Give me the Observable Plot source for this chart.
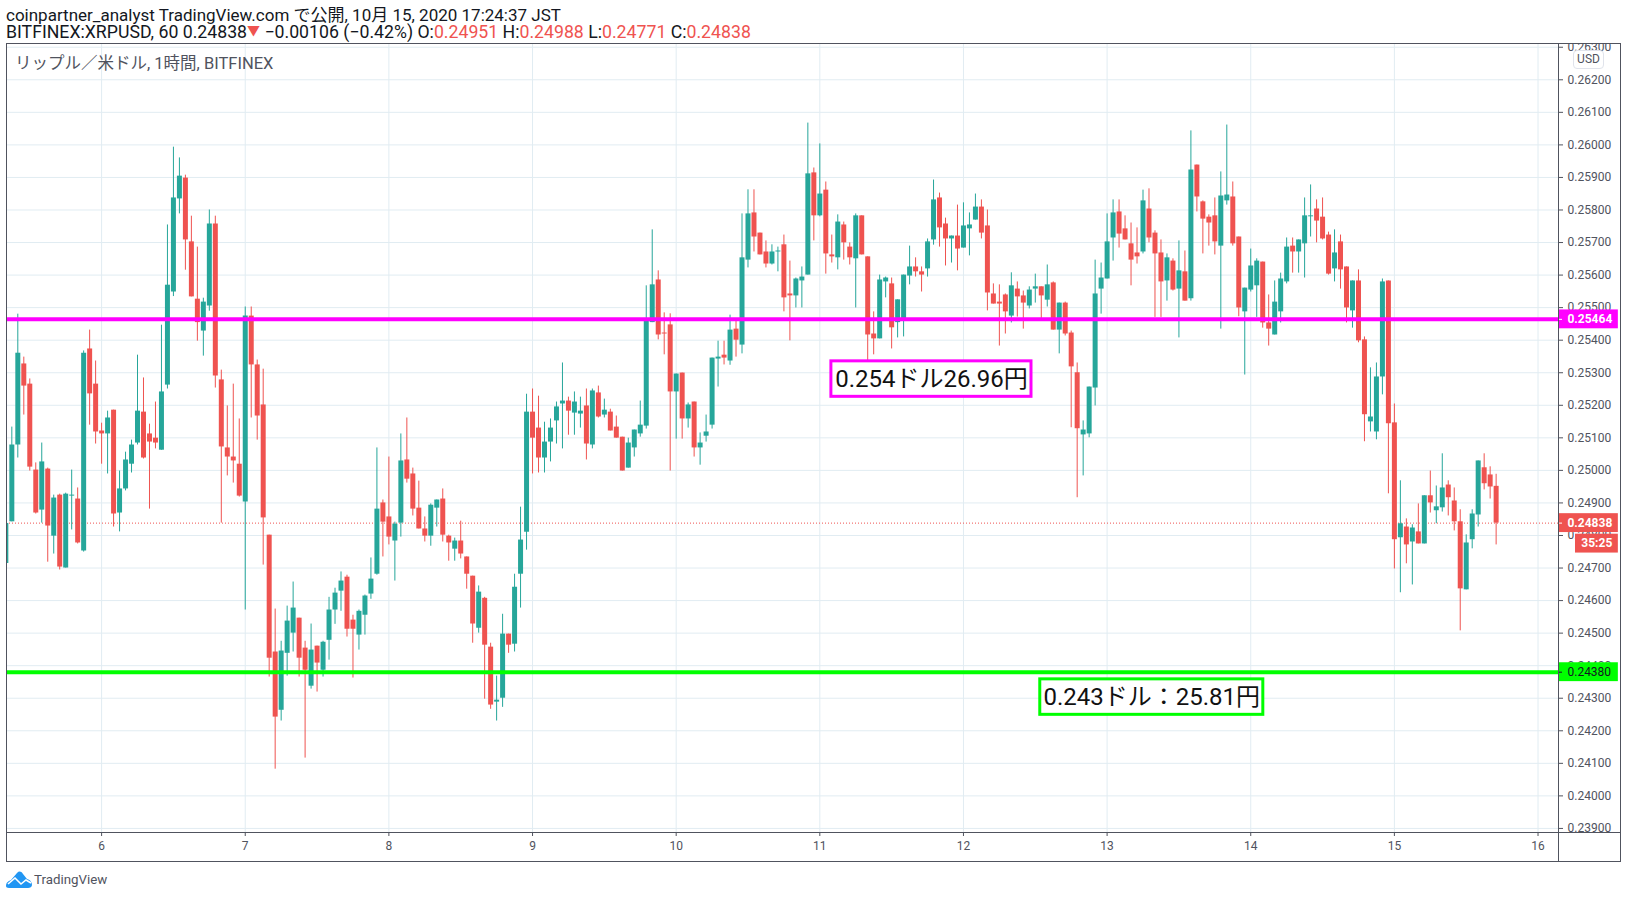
<!DOCTYPE html>
<html lang="ja">
<head>
<meta charset="utf-8">
<script src="https://cdn.jsdelivr.net/npm/d3@7"></script>
<script src="https://cdn.jsdelivr.net/npm/@observablehq/plot@0.6"></script>
<style>
html,body{margin:0;padding:0;background:#fff;}
#page{position:relative;width:1627px;height:898px;overflow:hidden;font-family:Roboto,"Noto Sans CJK JP",sans-serif;color:#131722;}
#page>*{position:absolute;}
.hd{left:6px;line-height:17px;white-space:pre;}
.r{color:#ef5350;}
.a{font-size:13px;vertical-align:3px;line-height:10px;}
#chart{left:0;top:43px;}
.ln{background:#50535e;}
#usd{left:1573px;top:50px;width:29px;height:17px;border:1px solid #e0e3eb;border-radius:4px;background:#fff;font-size:12px;line-height:17px;text-align:center;color:#50535e;}
</style>
</head>
<body>
<div id="page">
  <div class="hd" style="top:7px;font-size:17px">coinpartner_analyst TradingView.com で公開, 10月 15, 2020 17:24:37 JST</div>
  <div class="hd" style="top:24px;font-size:17.7px">BITFINEX:XRPUSD, 60 0.24838<span class="r a">▼</span> −0.00106 (−0.42%) O:<span class="r">0.24951</span> H:<span class="r">0.24988</span> L:<span class="r">0.24771</span> C:<span class="r">0.24838</span></div>
  <div id="chart"></div>
  <div style="left:15px;top:54px;font-size:16.5px;line-height:20px;color:#50535e;white-space:pre">リップル／米ドル, 1時間, BITFINEX</div>
  <div id="usd">USD</div>
  <div class="ln" style="left:6px;top:43px;width:1615px;height:1px"></div>
  <div class="ln" style="left:6px;top:832px;width:1615px;height:1px"></div>
  <div class="ln" style="left:6px;top:861px;width:1615px;height:1px"></div>
  <div class="ln" style="left:6px;top:43px;width:1px;height:819px"></div>
  <div class="ln" style="left:1558px;top:43px;width:1px;height:819px"></div>
  <div class="ln" style="left:1620px;top:43px;width:1px;height:819px"></div>
  <svg style="left:6px;top:871px" width="26" height="17" viewBox="0 0 26 17"><path d="M0 15 C0 11 3 10 5 9 L11 2 C13 0 15 0 17 3 L21 8 C25 9 26 12 26 14 C26 16 24 17 22 17 L3 17 C1 17 0 16 0 15Z" fill="#2196f3"/><path d="M2 13 L9 7 L15 13 L20 9 L25 12" fill="none" stroke="#fff" stroke-width="1.6"/></svg>
  <div style="left:34px;top:871px;font-size:13.3px;line-height:17px;color:#50535e">TradingView</div>
</div>
<script>
// Prices are in units of 0.00001 USD, one candle per hour from 5 Oct 08:00.
const opens = [
24714,24842,25078,25327,25265,25001,24878,25004,24798,24924,24700,24921,24912,24752,25373,25265,
25121,25112,25185,24869,24943,25019,25084,25179,25112,25099,25062,25262,25548,25834,25898,25702,25526,25428,25505,25757,25278,25069,25041,25019,
24903,25474,25324,25201,24801,24442,24263,24438,24500,24546,24454,24337,24460,24386,24478,24571,24629,24672,24540,24494,24555,24620,24681,24900,
24857,24783,24838,25032,24989,24884,24820,24798,24884,24912,24798,24758,24783,24734,24675,24515,24607,24457,24288,24300,24497,24466,24681,24810,
25179,25130,25038,25087,25152,25204,25213,25176,25173,25198,25078,25238,25170,25179,25133,25102,25007,25069,25112,25136,25454,25585,25422,25447,
25241,25299,25158,25210,25069,25105,25139,25342,25354,25336,25434,25385,25646,25791,25729,25671,25634,25671,25693,25542,25536,25582,25600,25914,
25782,25861,25662,25653,25754,25686,25650,25782,25656,25419,25404,25579,25573,25454,25462,25597,25625,25610,25619,25708,25837,25757,25711,25720,
25683,25742,25769,25809,25751,25542,25517,25539,25474,25557,25536,25505,25557,25564,25523,25576,25431,25514,25422,25300,25109,25112,25253,25557,
25588,25714,25794,25742,25696,25668,25671,25803,25729,25668,25582,25643,25557,25610,25527,25938,25825,25778,25782,25689,25828,25840,25717,25487,
25554,25567,25640,25453,25416,25487,25579,25689,25671,25696,25779,25803,25778,25723,25619,25702,25625,25490,25582,25401,25149,25118,25287,25582,
25146,24793,24826,24780,24811,24774,24922,24876,24885,24955,24906,24842,24633,24787,24863,25008,24986,24951];
const highs = [
24837,25133,25480,25348,25281,25023,25084,25007,24924,24927,24930,25001,24946,25367,25431,25336,
25145,25182,25185,24998,25056,25093,25354,25284,25142,25210,25446,25754,25993,25960,25907,25781,25686,25529,25800,25781,25308,25198,25265,25158,
25502,25502,25339,25311,24801,24574,24475,24583,24657,24546,24475,24528,24460,24475,24610,24638,24688,24678,24555,24571,24617,24731,25069,24909,
25041,24841,25112,25161,25007,24967,24857,24897,24909,24943,24801,24792,24844,24734,24675,24645,24610,24469,24368,24558,24497,24681,24887,25234,
25250,25228,25148,25158,25210,25330,25225,25241,25225,25250,25250,25259,25219,25188,25167,25102,25099,25124,25213,25567,25739,25613,25484,25481,
25296,25299,25207,25210,25115,25170,25345,25397,25397,25477,25459,25788,25862,25862,25729,25705,25693,25686,25723,25643,25591,25625,26067,25929,
26003,25886,25723,25785,25763,25699,25788,25782,25656,25487,25600,25594,25591,25524,25600,25689,25653,25625,25711,25892,25852,25775,25720,25815,
25822,25791,25849,25831,25800,25573,25570,25542,25607,25579,25551,25564,25603,25564,25631,25579,25514,25517,25428,25330,25152,25256,25646,25637,
25788,25831,25831,25782,25760,25745,25861,25865,25736,25708,25665,25650,25705,25674,26043,25938,25828,25785,25837,25917,26061,25886,25717,25560,
25680,25650,25640,25539,25582,25606,25714,25714,25708,25837,25877,25831,25837,25732,25739,25723,25625,25582,25616,25410,25315,25330,25588,25582,
25204,24968,24851,24833,24897,24922,24998,24952,25051,24968,24946,24879,24802,24879,25029,25051,25011,24988];
const lows = [
24714,24842,25038,25170,24998,24866,24838,24718,24743,24694,24700,24817,24774,24749,25139,25081,
25019,24989,24826,24811,24937,24992,25078,25035,24881,25066,25062,25250,25534,25788,25615,25533,25397,25351,25489,25253,24838,24983,24961,24918,
24571,25161,25093,24709,24365,24082,24230,24368,24442,24365,24116,24328,24319,24365,24417,24527,24567,24488,24362,24448,24494,24604,24678,24734,
24771,24660,24795,24961,24860,24820,24780,24767,24826,24780,24721,24721,24728,24635,24469,24500,24297,24266,24230,24272,24438,24442,24577,24755,
24989,24992,24992,25026,25081,25066,25108,25108,25130,25032,25066,25161,25161,25121,25099,24998,25007,25041,25102,25127,25454,25401,25355,24998,
25096,25096,25130,25041,25016,25087,25127,25256,25324,25323,25348,25358,25622,25671,25662,25622,25631,25610,25487,25398,25499,25499,25600,25705,
25779,25603,25637,25616,25646,25631,25499,25662,25313,25355,25404,25530,25373,25407,25410,25570,25594,25548,25594,25692,25686,25628,25637,25613,
25683,25659,25769,25711,25490,25511,25382,25419,25453,25471,25434,25496,25514,25465,25502,25431,25358,25413,25131,24916,24983,25100,25198,25480,
25588,25643,25683,25708,25567,25634,25665,25699,25470,25470,25520,25551,25407,25520,25520,25794,25665,25689,25662,25434,25815,25689,25472,25293,
25548,25470,25437,25382,25416,25453,25573,25606,25606,25591,25717,25699,25708,25600,25579,25557,25453,25437,25392,25088,25118,25094,25232,24928,
24697,24624,24713,24648,24774,24774,24869,24836,24872,24860,24814,24507,24633,24759,24826,24940,24912,24771];
const closes = [
24837,25078,25360,25259,25010,24869,25026,24829,24915,24703,24927,24924,24777,25360,25235,25118,
25112,25161,24866,24943,25032,25078,25182,25038,25087,25084,25241,25569,25837,25904,25708,25533,25454,25517,25757,25290,25072,25041,25029,24921,
25474,25324,25167,24854,24423,24242,24445,24537,24577,24423,24386,24448,24408,24472,24571,24623,24660,24512,24512,24567,24614,24666,24881,24841,
24795,24835,25029,24973,24881,24820,24798,24893,24909,24801,24777,24783,24743,24681,24528,24626,24463,24279,24294,24497,24463,24641,24786,25179,
25099,25038,25087,25130,25195,25213,25182,25210,25182,25081,25244,25164,25185,25121,25099,24998,25084,25124,25139,25465,25570,25416,25419,25241,
25296,25158,25201,25069,25084,25118,25345,25348,25345,25431,25400,25653,25788,25717,25662,25634,25671,25674,25530,25536,25588,25594,25911,25782,
25849,25665,25656,25763,25699,25653,25782,25662,25416,25404,25585,25591,25438,25524,25600,25625,25610,25600,25702,25831,25745,25711,25720,25680,
25751,25754,25809,25729,25545,25511,25511,25487,25567,25533,25514,25554,25564,25536,25570,25431,25514,25419,25318,25128,25124,25256,25542,25591,
25702,25791,25726,25708,25646,25656,25828,25714,25665,25579,25653,25554,25613,25520,25923,25840,25772,25760,25702,25843,25846,25696,25499,25560,
25628,25643,25453,25434,25517,25588,25686,25671,25708,25782,25782,25766,25711,25603,25668,25616,25499,25582,25398,25171,25164,25287,25579,25143,
24787,24836,24771,24823,24774,24922,24900,24888,24946,24916,24842,24636,24777,24866,25029,24959,24949,24838];

const priceUnit = 0.00001;
const firstCandle = Date.UTC(2020, 9, 5, 8);
const hour = 3600000;
const dayTicks = [6, 7, 8, 9, 10, 11, 12, 13, 14, 15, 16];
const priceTicks = [0.239,0.240,0.241,0.242,0.243,0.244,0.245,0.246,0.247,0.248,0.249,0.250,0.251,0.252,0.253,0.254,0.255,0.256,0.257,0.258,0.259,0.260,0.261,0.262,0.263];
const levelPrices = [0.25464, 0.2438];
const levelColors = ["#ff00ff", "#00ff00"];
const tagPrices = [0.25464, 0.24838];
const tagFills = ["#ff00ff", "#ef5350"];
const greenTagPrice = 0.2438;
const lastPrice = 0.24838;
const countdownText = "35:25";
const countdownPrice = 0.24775;
const noteTexts = ["0.254ドル26.96円", "0.243ドル：25.81円"];
const noteColors = ["#ff00ff", "#00ff00"];
const notePriceTops = [0.25335, 0.24358];
const notePriceBottoms = [0.25226, 0.24249];
const noteStarts = [Date.UTC(2020, 9, 11, 1, 56), Date.UTC(2020, 9, 12, 12, 50)];
const noteEnds = [Date.UTC(2020, 9, 12, 11, 22), Date.UTC(2020, 9, 14, 2, 6)];

const up = "#26a69a", down = "#ef5350", grid = "#e1ecf2";
const xStart = new Date(Date.UTC(2020, 9, 6) - 15.89 * hour);
const xEnd = new Date(Date.UTC(2020, 9, 6) + 243.42 * hour);
const axisW = t => new Date(+xEnd + t * hour);
const candles = opens.map((o, i) => ({
  t: new Date(firstCandle + i * hour), open: o * priceUnit, high: highs[i] * priceUnit, low: lows[i] * priceUnit, close: closes[i] * priceUnit
}));
const days = dayTicks.map(d => new Date(Date.UTC(2020, 9, d)));
const levels = levelPrices.map((p, i) => ({p, c: levelColors[i]}));
const tags = tagPrices.map((p, i) => ({p, f: tagFills[i], s: p.toFixed(5)}));
const notes = noteTexts.map((s, i) => ({s, c: noteColors[i], y1: notePriceTops[i], y2: notePriceBottoms[i], x1: new Date(noteStarts[i]), x2: new Date(noteEnds[i])}));
const halfTag = 0.00029;
const yMin = 0.238875, yMax = 0.263115;

const chart = Plot.plot({
  width: 1627, height: 819,
  marginLeft: 6, marginRight: 69, marginTop: 0, marginBottom: 30,
  x: {type: "utc", domain: [xStart, xEnd], axis: null},
  y: {domain: [yMin, yMax], axis: null},
  style: {color: "#50535e", background: "transparent", overflow: "hidden", fontFamily: "Roboto, 'Noto Sans CJK JP', sans-serif"},
  marks: [
    Plot.ruleX(days, {stroke: grid, y1: yMin, y2: yMax}),
    Plot.ruleY(priceTicks, {stroke: grid, x1: xStart, x2: xEnd}),
    Plot.axisY({anchor: "right", ticks: priceTicks, tickSize: 4, tickPadding: 5, tickFormat: d => d.toFixed(5), fontSize: 12, label: null}),
    Plot.rect([0], {x1: xEnd, x2: axisW(11), y1: yMin - 0.0002, y2: yMin, fill: "#fff"}),
    Plot.axisX({anchor: "bottom", ticks: days, tickSize: 4, tickPadding: 5, tickFormat: d => String(d.getUTCDate()), fontSize: 12, label: null}),
    Plot.ruleY([lastPrice], {x1: xStart, x2: xEnd, stroke: down, strokeWidth: 1, strokeDasharray: "1,2"}),
    Plot.ruleX(candles, {x: "t", y1: "low", y2: "high", stroke: d => d.close >= d.open ? up : down, clip: "frame"}),
    Plot.ruleX(candles, {x: "t", y1: "open", y2: "close", strokeWidth: 5, stroke: d => d.close >= d.open ? up : down, clip: "frame"}),
    Plot.ruleY(levels, {y: "p", x1: xStart, x2: xEnd, stroke: "c", strokeWidth: 4}),
    Plot.rect(tags, {x1: xEnd, x2: axisW(10), y1: d => d.p - halfTag, y2: d => d.p + halfTag, fill: "f"}),
    Plot.ruleY(tags, {y: "p", x1: xEnd, x2: axisW(0.67), stroke: "#fff"}),
    Plot.text(tags, {x: axisW(1.5), y: "p", text: "s", fill: "#fff", textAnchor: "start", fontSize: 12, fontWeight: "bold"}),
    Plot.rect([greenTagPrice], {x1: xEnd, x2: axisW(10), y1: d => d - halfTag, y2: d => d + halfTag, fill: "#00ff00"}),
    Plot.ruleY([greenTagPrice], {x1: xEnd, x2: axisW(0.67), stroke: "#131722"}),
    Plot.text([greenTagPrice], {x: axisW(1.5), y: d => d, text: d => d.toFixed(5), fill: "#131722", textAnchor: "start", fontSize: 12}),
    Plot.rect([countdownPrice], {x1: axisW(2.84), x2: axisW(10), y1: d => d - halfTag, y2: d => d + halfTag, fill: down}),
    Plot.text([countdownPrice], {x: axisW(6.4), y: d => d, text: () => countdownText, fill: "#fff", fontSize: 12, fontWeight: "bold"}),
    Plot.rect(notes, {x1: "x1", x2: "x2", y1: "y1", y2: "y2", fill: "#fff", stroke: "c", strokeWidth: 3}),
    Plot.text(notes, {x: d => new Date((+d.x1 + +d.x2) / 2), y: d => (d.y1 + d.y2) / 2, text: "s", fill: "#111", fontSize: 24})
  ]
});
document.getElementById("chart").append(chart);
</script>
</body>
</html>
